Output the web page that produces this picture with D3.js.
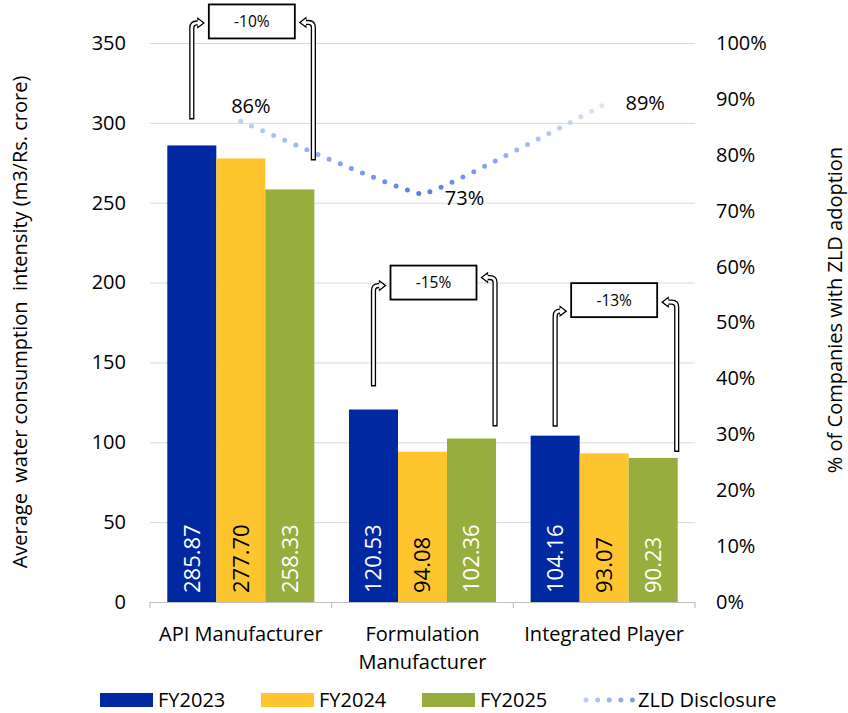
<!DOCTYPE html>
<html>
<head>
<meta charset="utf-8">
<script src="https://cdn.jsdelivr.net/npm/d3@7"></script>
<style>
  body { margin: 0; background: #fff; }
  text { font-family: "Open Sans", "Noto Sans", sans-serif; fill: #000; }
</style>
</head>
<body>
<svg id="chart" width="848" height="713"></svg>
<script>
// ---- data ----
const categories = ["API Manufacturer", "Formulation Manufacturer", "Integrated Player"];
const categoryLines = [["API Manufacturer"], ["Formulation", "Manufacturer"], ["Integrated Player"]];
const seriesNames = ["FY2023", "FY2024", "FY2025"];
const fy2023 = [285.87, 120.53, 104.16];
const fy2024 = [277.70, 94.08, 93.07];
const fy2025 = [258.33, 102.36, 90.23];
const zldDisclosure = [0.86, 0.73, 0.89];
const changeLabels = ["-10%", "-15%", "-13%"];
const leftTicks = [0, 50, 100, 150, 200, 250, 300, 350];
const rightTicks = [0, 0.1, 0.2, 0.3, 0.4, 0.5, 0.6, 0.7, 0.8, 0.9, 1.0];
const lineName = "ZLD Disclosure";

// ---- styling / layout ----
const seriesValues = [fy2023, fy2024, fy2025];
const barColors = ["#0028A0", "#FFC52F", "#97AD3D"];
const barLabelColors = ["#fff", "#000", "#fff"];
const plot = { left: 150, right: 695, top: 43, bottom: 602 };
const groupInset = 17.3;

// placement of the ZLD point labels relative to each point
const zldLabelOffset = [{ dx: 10, dy: -8 }, { dx: 42, dy: 11 }, { dx: 41, dy: 6 }];

// change call-outs: box centre (left-axis units), gaps above bars, arrow-head offsets
const changeLayout = [
  { boxDx: 11, boxValue: 363.5, leftGap: 26, rightGap: 29, leftHeadDy: 1.5, rightHeadDy: 1 },
  { boxDx: 11, boxValue: 200, leftGap: 23, rightGap: 12, leftHeadDy: 3, rightHeadDy: -5 },
  { boxDx: 10, boxValue: 189, leftGap: 9, rightGap: 6, leftHeadDy: 11, rightHeadDy: 2 }
];
const boxW = 86, boxH = 34;

const legendX = [100, 261, 422, 581];
const legendY = 700;

const svg = d3.select("#chart");

const y = d3.scaleLinear().domain([0, 350]).range([plot.bottom, plot.top]);
const y2 = d3.scaleLinear().domain([0, 1]).range([plot.bottom, plot.top]);
const x0 = d3.scaleBand().domain(categories).range([plot.left, plot.right]).padding(0);
const x1 = d3.scaleBand().domain(seriesNames).range([groupInset, x0.bandwidth() - groupInset]).padding(0);

// gradient for the dotted ZLD line
const defs = svg.append("defs");
const cx = (i) => x0(categories[i]) + x0.bandwidth() / 2;
const grad = defs.append("linearGradient")
  .attr("id", "zldGrad").attr("gradientUnits", "userSpaceOnUse")
  .attr("x1", cx(0)).attr("x2", cx(2)).attr("y1", 0).attr("y2", 0);
grad.selectAll("stop").data([["0%", "#bfcffa"], ["50%", "#557bf0"], ["100%", "#dee7fd"]])
  .join("stop").attr("offset", d => d[0]).attr("stop-color", d => d[1]);

// ---- left axis with gridlines ----
const gLeft = svg.append("g").attr("transform", `translate(${plot.left},0)`)
  .call(d3.axisLeft(y).tickValues(leftTicks).tickSize(-(plot.right - plot.left)).tickPadding(24));
gLeft.select(".domain").remove();
gLeft.selectAll(".tick line").attr("stroke", "#d9d9d9").attr("stroke-width", 1)
  .filter(d => d === 0).remove();
gLeft.selectAll(".tick text").attr("font-size", 20).attr("font-family", "'Open Sans', sans-serif").attr("fill", "#000");

// ---- right axis ----
const gRight = svg.append("g").attr("transform", `translate(${plot.right},0)`)
  .call(d3.axisRight(y2).tickValues(rightTicks).tickFormat(d3.format(".0%")).tickSize(0).tickPadding(21));
gRight.select(".domain").remove();
gRight.selectAll(".tick text").attr("font-size", 20).attr("font-family", "'Open Sans', sans-serif").attr("fill", "#000");

// ---- category axis ----
const gBottom = svg.append("g");
gBottom.append("line").attr("x1", plot.left).attr("x2", plot.right)
  .attr("y1", plot.bottom + 0.5).attr("y2", plot.bottom + 0.5).attr("stroke", "#bfbfbf").attr("stroke-width", 1.2);
const boundaries = categories.map(c => x0(c)).concat([plot.right]);
gBottom.selectAll("line.sep").data(boundaries).join("line").attr("class", "sep")
  .attr("x1", d => d).attr("x2", d => d).attr("y1", plot.bottom).attr("y2", plot.bottom + 6)
  .attr("stroke", "#bfbfbf").attr("stroke-width", 1.2);
const catText = gBottom.selectAll("text.cat").data(categories).join("text").attr("class", "cat")
  .attr("text-anchor", "middle").attr("font-size", 20);
catText.selectAll("tspan").data((d, i) => categoryLines[i].map(l => ({ l, c: d })))
  .join("tspan").attr("x", d => x0(d.c) + x0.bandwidth() / 2)
  .attr("y", (d, j) => 641 + j * 28).text(d => d.l);

// ---- bars ----
const gBars = svg.append("g");
categories.forEach((cat, i) => {
  seriesNames.forEach((s, k) => {
    const v = seriesValues[k][i];
    const bx = x0(cat) + x1(s);
    gBars.append("rect").attr("x", bx).attr("y", y(v))
      .attr("width", x1.bandwidth()).attr("height", y(0) - y(v)).attr("fill", barColors[k]);
    const lx = bx + x1.bandwidth() / 2, ly = plot.bottom - 9;
    gBars.append("text").attr("x", lx).attr("y", ly).attr("dy", "0.36em")
      .attr("transform", `rotate(-90,${lx},${ly})`).attr("font-size", 22)
      .style("fill", barLabelColors[k]).text(v.toFixed(2));
  });
});

// ---- dotted ZLD line ----
const line = d3.line().x((d, i) => cx(i)).y(d => y2(d)).curve(d3.curveCardinal.tension(0.75));
svg.append("path").datum(zldDisclosure).attr("d", line).attr("fill", "none")
  .attr("stroke", "url(#zldGrad)").attr("stroke-width", 5).attr("stroke-linecap", "round")
  .attr("stroke-dasharray", "0 12");
svg.selectAll("text.zld").data(zldDisclosure).join("text").attr("class", "zld")
  .attr("x", (d, i) => cx(i) + zldLabelOffset[i].dx).attr("y", (d, i) => y2(d) + zldLabelOffset[i].dy)
  .attr("text-anchor", "middle").attr("font-size", 20).text(d => d3.format(".0%")(d));

// ---- change call-outs ----
function bentArrow(g, xs, yBottom, yTop, xTip, dir) {
  const headLen = 6, half = 4.6, r = 5;
  const base = xTip - dir * headLen;
  const shaft = `M${xs},${yBottom} V${yTop + r} Q${xs},${yTop} ${xs + dir * r},${yTop} H${base}`;
  const shaftInner = `M${xs},${yBottom - 1.4} V${yTop + r} Q${xs},${yTop} ${xs + dir * r},${yTop} H${base + dir}`;
  g.append("path").attr("d", shaft).attr("fill", "none").attr("stroke", "#000").attr("stroke-width", 5.2);
  g.append("path").attr("d", shaftInner).attr("fill", "none").attr("stroke", "#fff").attr("stroke-width", 2.6);
  g.append("path")
    .attr("d", `M${base},${yTop - 2.6} L${base},${yTop - half} L${xTip},${yTop} L${base},${yTop + half} L${base},${yTop + 2.6}`)
    .attr("fill", "none").attr("stroke", "#000").attr("stroke-width", 1.3).attr("stroke-linejoin", "miter");
  g.append("path")
    .attr("d", `M${base},${yTop - half + 1.2} L${xTip - dir * 1.8},${yTop} L${base},${yTop + half - 1.2} Z`)
    .attr("fill", "#fff");
}

const gAnn = svg.append("g");
categories.forEach((cat, i) => {
  const L = changeLayout[i];
  const bcx = x0(cat) + x0.bandwidth() / 2 + L.boxDx;
  const bcy = y(L.boxValue);
  const left = bcx - boxW / 2, right = bcx + boxW / 2;
  // from the first year's bar
  const xsL = x0(cat) + x1(seriesNames[0]) + x1.bandwidth() / 2;
  bentArrow(gAnn, xsL, y(fy2023[i]) - L.leftGap, bcy + L.leftHeadDy, left - 5, 1);
  // from the last year's bar
  const xsR = x0(cat) + x1(seriesNames[2]) + x1.bandwidth() - 1;
  bentArrow(gAnn, xsR, y(fy2025[i]) - L.rightGap, bcy + L.rightHeadDy, right + 5, -1);
  gAnn.append("rect").attr("x", left).attr("y", bcy - boxH / 2).attr("width", boxW).attr("height", boxH)
    .attr("fill", "#fff").attr("stroke", "#000").attr("stroke-width", 1.8);
  gAnn.append("text").attr("x", bcx).attr("y", bcy).attr("dy", "0.36em").attr("text-anchor", "middle")
    .attr("font-size", 15.5).text(changeLabels[i]);
});

// ---- axis titles ----
svg.append("text").attr("transform", "translate(27,322) rotate(-90)").attr("text-anchor", "middle")
  .attr("font-size", 20).attr("xml:space", "preserve")
  .text("Average  water consumption  intensity (m3/Rs. crore)");
svg.append("text").attr("transform", "translate(842,310) rotate(-90)").attr("text-anchor", "middle")
  .attr("font-size", 20).text("% of Companies with ZLD adoption");

// ---- legend ----
const gLeg = svg.append("g");
seriesNames.forEach((s, k) => {
  gLeg.append("rect").attr("x", legendX[k]).attr("y", legendY - 7).attr("width", 53).attr("height", 14)
    .attr("fill", barColors[k]);
  gLeg.append("text").attr("x", legendX[k] + 58).attr("y", legendY).attr("dy", "0.36em")
    .attr("font-size", 20).text(s);
});
const lg = defs.append("linearGradient").attr("id", "zldLegGrad").attr("gradientUnits", "userSpaceOnUse")
  .attr("x1", legendX[3]).attr("x2", legendX[3] + 53).attr("y1", 0).attr("y2", 0);
lg.selectAll("stop").data([["0%", "#c4d3fa"], ["100%", "#7b98f3"]])
  .join("stop").attr("offset", d => d[0]).attr("stop-color", d => d[1]);
gLeg.append("line").attr("x1", legendX[3] + 5).attr("x2", legendX[3] + 52).attr("y1", legendY).attr("y2", legendY)
  .attr("stroke", "url(#zldLegGrad)").attr("stroke-width", 5).attr("stroke-linecap", "round")
  .attr("stroke-dasharray", "0 11.6");
gLeg.append("text").attr("x", legendX[3] + 57).attr("y", legendY).attr("dy", "0.36em")
  .attr("font-size", 20).text(lineName);
</script>
</body>
</html>
